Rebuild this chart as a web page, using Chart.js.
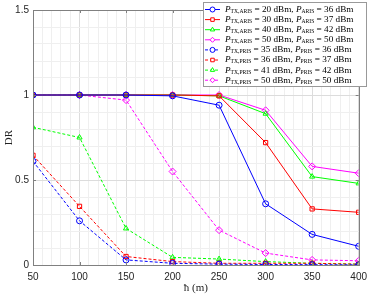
<!DOCTYPE html>
<html>
<head>
<meta charset="utf-8">
<script src="https://cdn.jsdelivr.net/npm/chart.js@4.4.1/dist/chart.umd.min.js"></script>
<style>
  html, body { margin: 0; padding: 0; background: #fff; }
</style>
</head>
<body>
<canvas id="myChart" width="373" height="297"></canvas>
<script>
// distance hbar (m)
const hValues = [50, 100, 150, 200, 250, 300, 350, 400];

// ARIS curves (solid)
const aris20 = [1, 1, 1, 0.995, 0.94, 0.36, 0.18, 0.11];
const aris30 = [1, 1, 1, 1, 0.995, 0.72, 0.33, 0.31];
const aris40 = [1, 1, 1, 1, 0.995, 0.89, 0.52, 0.48];
const aris50 = [1, 1, 1, 1, 1, 0.91, 0.58, 0.54];

// PRIS curves (dashed)
const pris35 = [0.61, 0.26, 0.03, 0.01, 0.005, 0.003, 0.002, 0.001];
const pris36 = [0.645, 0.345, 0.05, 0.02, 0.01, 0.01, 0.01, 0.005];
const pris41 = [0.81, 0.75, 0.215, 0.045, 0.035, 0.02, 0.01, 0.005];
const pris50 = [1, 1, 0.97, 0.55, 0.205, 0.07, 0.03, 0.025];

const xTicks = [50, 100, 150, 200, 250, 300, 350, 400];
const yTicks = [0, 0.5, 1, 1.5];

// legend text parts: [sub1, val1, sub2, val2]
const legendParts = [
  ['TX,ARIS', '20', 'ARIS', '36'],
  ['TX,ARIS', '30', 'ARIS', '37'],
  ['TX,ARIS', '40', 'ARIS', '42'],
  ['TX,ARIS', '50', 'ARIS', '50'],
  ['TX,PRIS', '35', 'PRIS', '36'],
  ['TX,PRIS', '36', 'PRIS', '37'],
  ['TX,PRIS', '41', 'PRIS', '42'],
  ['TX,PRIS', '50', 'PRIS', '50']
];

const toPts = arr => arr.map((v, i) => ({ x: hValues[i], y: v }));

const mkSet = (data, color, shape, dashed) => ({
  data: toPts(data),
  borderColor: color,
  backgroundColor: color,
  pointBackgroundColor: 'rgba(0,0,0,0)',
  pointBorderColor: color,
  pointStyle: shape,
  pointRadius: shape === 'rectRot' ? 3.5 : 3,
  pointBorderWidth: 1,
  borderWidth: 1,
  borderDash: dashed ? [3, 2] : [],
  tension: 0,
  fill: false
});

const axisGray = '#808080';
const serif = '"Liberation Serif", "DejaVu Serif", serif';

const boxPlugin = {
  id: 'boxPlugin',
  afterDraw(chart) {
    const ctx = chart.ctx;
    const a = chart.chartArea;
    const xs = chart.scales.x, ys = chart.scales.y;
    ctx.save();
    ctx.strokeStyle = axisGray;
    ctx.lineWidth = 1;
    ctx.strokeRect(Math.round(a.left) + 0.5, Math.round(a.top) + 0.5,
      Math.round(a.right - a.left), Math.round(a.bottom - a.top));
    // inward ticks
    ctx.beginPath();
    xTicks.forEach(v => {
      const px = Math.round(xs.getPixelForValue(v)) + 0.5;
      ctx.moveTo(px, a.bottom); ctx.lineTo(px, a.bottom - 3);
      ctx.moveTo(px, a.top); ctx.lineTo(px, a.top + 3);
    });
    yTicks.forEach(v => {
      const py = Math.round(ys.getPixelForValue(v)) + 0.5;
      ctx.moveTo(a.left, py); ctx.lineTo(a.left + 3, py);
      ctx.moveTo(a.right, py); ctx.lineTo(a.right - 3, py);
    });
    ctx.stroke();

    // axis titles
    ctx.fillStyle = '#222';
    ctx.font = '11px ' + serif;
    ctx.textAlign = 'center';
    ctx.textBaseline = 'middle';
    ctx.fillText('\u0127 (m)', (a.left + a.right) / 2, 288);
    ctx.translate(9, (a.top + a.bottom) / 2);
    ctx.rotate(-Math.PI / 2);
    ctx.fillText('DR', 0, 0);
    ctx.restore();

    // legend
    ctx.save();
    const lx = 203, ly = 2, lw = 163, lh = 84;
    ctx.fillStyle = '#fff';
    ctx.fillRect(lx, ly, lw, lh);
    ctx.strokeStyle = '#999';
    ctx.strokeRect(lx + 0.5, ly + 0.5, lw, lh);
    chart.data.datasets.forEach((ds, i) => {
      const cy = ly + 7.5 + i * 10.1;
      ctx.strokeStyle = ds.borderColor;
      ctx.lineWidth = 1;
      ctx.setLineDash(ds.borderDash);
      ctx.beginPath();
      ctx.moveTo(lx + 2, cy); ctx.lineTo(lx + 17, cy);
      ctx.stroke();
      ctx.setLineDash([]);
      ctx.fillStyle = '#fff';
      Chart.helpers.drawPoint(ctx, {
        pointStyle: ds.pointStyle, radius: 2.5, borderWidth: 1, rotation: 0
      }, lx + 9.5, cy);

      const p = legendParts[i];
      let x = lx + 22;
      ctx.fillStyle = '#000';
      ctx.textAlign = 'left';
      ctx.textBaseline = 'middle';
      const seg = (txt, font, dy) => {
        ctx.font = font;
        ctx.fillText(txt, x, cy + dy);
        x += ctx.measureText(txt).width;
      };
      seg('P', 'italic 9.2px ' + serif, 0);
      seg(p[0], '5.6px ' + serif, 2);
      seg(' = ' + p[1] + ' dBm, ', '9.2px ' + serif, 0);
      seg('P', 'italic 9.2px ' + serif, 0);
      seg(p[2], '5.6px ' + serif, 2);
      seg(' = ' + p[3] + ' dBm', '9.2px ' + serif, 0);
    });
    ctx.restore();
  }
};

const ctx = document.getElementById('myChart').getContext('2d');
const myChart = new Chart(ctx, {
  type: 'line',
  data: {
    datasets: [
      mkSet(aris20, '#0000ff', 'circle', false),
      mkSet(aris30, '#ff0000', 'rect', false),
      mkSet(aris40, '#00ff00', 'triangle', false),
      mkSet(aris50, '#ff00ff', 'rectRot', false),
      mkSet(pris35, '#0000ff', 'circle', true),
      mkSet(pris36, '#ff0000', 'rect', true),
      mkSet(pris41, '#00ff00', 'triangle', true),
      mkSet(pris50, '#ff00ff', 'rectRot', true)
    ]
  },
  options: {
    responsive: false,
    animation: false,
    devicePixelRatio: 1,
    layout: { padding: { top: 4, right: 8, left: 0, bottom: 0 } },
    plugins: {
      legend: { display: false },
      tooltip: { enabled: false }
    },
    scales: {
      x: {
        type: 'linear',
        min: 50,
        max: 400,
        afterFit: s => { s.height = 32; },
        afterBuildTicks: s => {
          s.ticks = [];
          for (let v = 50; v <= 400; v += 10) s.ticks.push({ value: v });
        },
        ticks: {
          autoSkip: false,
          maxRotation: 0,
          padding: 6,
          color: '#262626',
          font: { family: '"Liberation Sans", Arial, sans-serif', size: 10 },
          callback: v => (v % 50 === 0 ? String(v) : '')
        },
        grid: {
          drawTicks: false,
          color: c => (c.tick && c.tick.value % 50 === 0 ? '#dcdcdc' : '#efefef')
        },
        border: { display: false }
      },
      y: {
        min: 0,
        max: 1.5,
        afterFit: s => { s.width = 33; },
        afterBuildTicks: s => {
          s.ticks = [];
          for (let k = 0; k <= 15; k++) s.ticks.push({ value: k / 10 });
        },
        ticks: {
          autoSkip: false,
          padding: 4,
          color: '#262626',
          font: { family: '"Liberation Sans", Arial, sans-serif', size: 10 },
          callback: v => (Math.abs(v * 2 - Math.round(v * 2)) < 1e-6 ? String(Math.round(v * 10) / 10) : '')
        },
        grid: {
          drawTicks: false,
          color: c => (c.tick && Math.abs(c.tick.value * 2 - Math.round(c.tick.value * 2)) < 1e-6 ? '#dcdcdc' : '#efefef')
        },
        border: { display: false }
      }
    }
  },
  plugins: [boxPlugin]
});
</script>
</body>
</html>
